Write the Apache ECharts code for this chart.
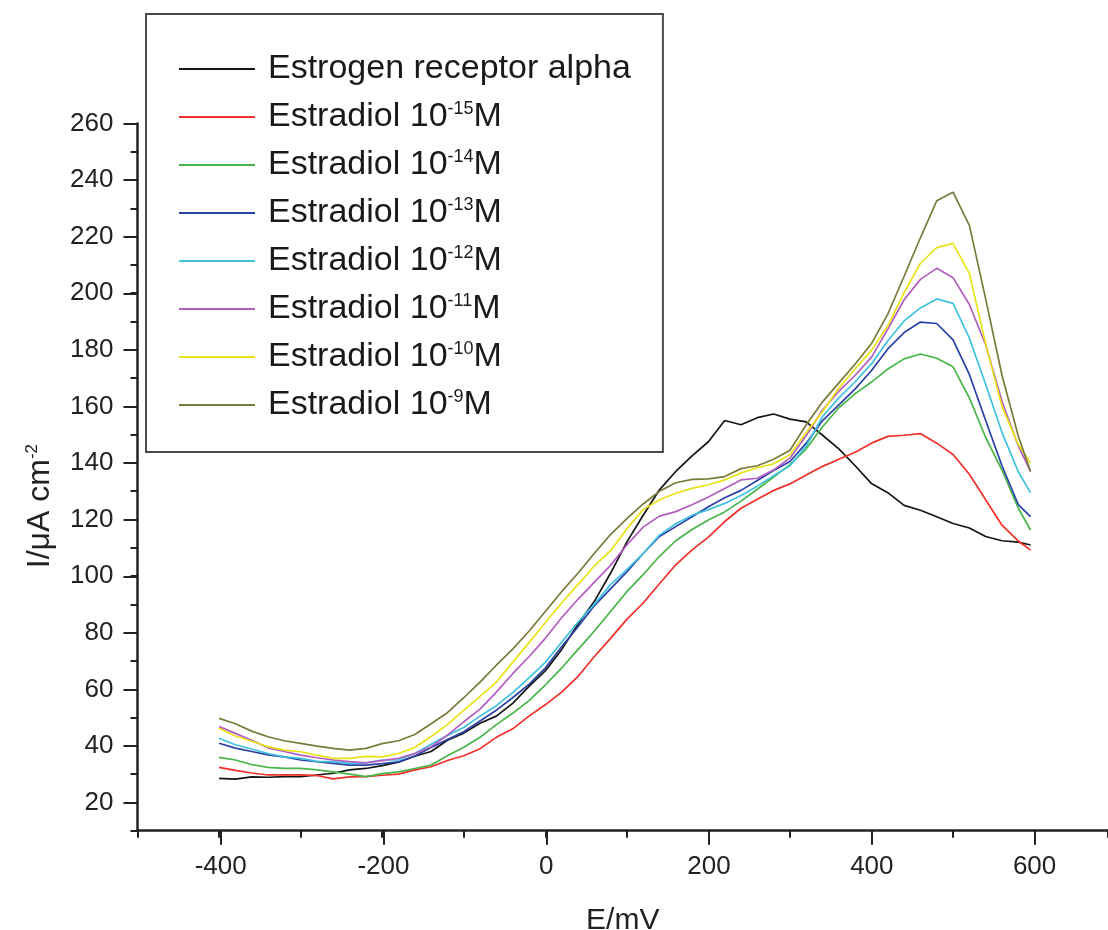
<!DOCTYPE html>
<html>
<head>
<meta charset="utf-8">
<script src="https://cdn.jsdelivr.net/npm/echarts@6/dist/echarts.min.js"></script>
<style>
html,body{margin:0;padding:0;background:#fff;}
#chart{width:1108px;height:930px;}
</style>
</head>
<body>
<div id="chart"></div>
<script>
// ---------- data ----------
const potentialMV = [-400,-380,-360,-340,-320,-300,-280,-260,-240,-220,-200,-180,-160,-140,-120,-100,-80,-60,-40,-20,
  0,20,40,60,80,100,120,140,160,180,200,220,240,260,280,300,320,340,360,380,400,420,440,460,480,500,520,540,560,580,595];

const receptorAlpha = [28.5,28.2,29.0,28.9,29.1,29.1,29.7,30.3,31.5,32.0,33.0,34.2,36.3,38.0,42.0,44.5,48.0,50.5,55.0,61.0,
  66.5,74.0,83.0,91.0,101.0,112.0,121.5,130.5,137.0,142.5,147.5,155.0,153.5,156.0,157.3,155.5,154.5,149.8,145.0,139.0,
  132.7,129.5,125.0,123.3,121.0,118.6,117.0,114.0,112.5,112.0,111.0];

const estradiol15 = [32.4,31.3,30.4,29.7,29.7,29.7,29.5,28.3,29.0,29.1,29.6,30.0,31.5,32.6,34.8,36.5,39.0,43.0,46.0,50.5,
  54.5,59.0,64.5,71.5,78.0,84.7,90.5,97.3,104.0,109.3,113.8,119.3,124.0,127.2,130.3,132.6,135.7,138.8,141.3,143.8,
  147.0,149.4,149.8,150.4,147.0,143.0,136.0,127.0,118.0,112.4,109.2];

const estradiol14 = [35.9,35.0,33.4,32.4,32.0,32.0,31.5,30.8,30.0,29.1,30.2,30.8,32.0,33.2,36.5,39.5,43.0,47.5,51.5,56.0,
  61.5,67.5,74.0,80.5,87.5,94.5,100.5,107.0,112.5,116.5,119.8,122.7,126.5,130.7,135.0,139.4,145.0,152.8,159.5,164.5,
  168.6,173.2,176.8,178.5,177.0,174.0,163.0,149.0,137.5,124.0,116.3];

const estradiol13 = [40.9,39.2,38.0,36.8,36.1,35.0,34.4,33.8,33.2,33.2,33.7,34.3,36.4,39.4,42.2,45.0,48.8,52.6,57.0,61.7,
  67.5,75.0,82.0,89.5,95.5,101.5,108.0,114.0,117.5,121.0,124.5,127.7,130.3,133.8,137.3,140.5,147.0,155.0,160.5,166.2,
  172.7,180.3,186.1,189.8,189.3,183.5,171.3,155.0,139.0,125.3,121.0];

const estradiol12 = [42.7,40.4,38.9,37.3,36.1,35.6,34.5,34.4,33.8,34.0,35.0,35.0,37.3,40.6,43.7,46.5,50.5,54.2,58.8,64.0,
  69.5,76.6,83.7,90.0,97.0,102.3,108.0,114.5,118.5,121.5,123.5,125.7,128.5,131.8,135.5,139.0,146.0,156.4,163.0,168.7,
  175.0,183.2,190.2,194.8,198.0,196.4,184.1,167.8,150.8,136.9,129.5];

const estradiol11 = [46.8,44.4,42.0,39.3,38.0,36.7,35.8,35.0,34.4,34.0,34.8,35.6,37.3,39.7,43.8,48.5,53.0,59.0,65.5,71.5,
  78.0,85.3,91.8,97.8,103.8,111.0,117.3,121.2,122.8,125.2,128.0,131.0,134.0,134.6,137.5,141.7,149.7,158.7,165.4,171.0,
  177.4,187.3,197.7,204.9,208.8,205.5,196.0,181.8,161.8,146.0,137.0];

const estradiol10 = [46.2,43.5,41.6,39.7,38.5,37.9,36.7,35.6,35.6,36.3,36.1,37.3,39.4,43.3,47.5,52.5,57.5,62.5,69.5,76.5,
  83.5,90.5,97.0,103.5,109.0,116.7,123.5,127.0,129.3,131.0,132.3,134.0,136.5,138.3,139.7,142.9,150.8,158.2,166.5,173.3,
  179.8,188.5,200.2,210.6,216.1,217.6,207.0,182.0,160.0,146.5,140.0];

const estradiol9 = [49.7,47.8,45.2,43.2,41.8,40.9,39.9,39.1,38.5,39.1,40.8,41.8,44.0,47.8,51.7,57.0,62.5,68.5,74.2,80.5,
  87.5,94.5,101.0,108.0,114.7,120.3,125.5,130.0,133.0,134.2,134.4,135.2,138.0,139.0,141.3,144.5,153.5,161.6,168.3,175.0,
  182.2,192.6,206.0,219.6,232.7,235.7,224.0,198.0,171.0,149.5,137.0];

const seriesNames = ['Estrogen receptor alpha','Estradiol 10^-15M','Estradiol 10^-14M','Estradiol 10^-13M',
  'Estradiol 10^-12M','Estradiol 10^-11M','Estradiol 10^-10M','Estradiol 10^-9M'];
const seriesValues = [receptorAlpha, estradiol15, estradiol14, estradiol13, estradiol12, estradiol11, estradiol10, estradiol9];
const seriesColors = ['#151515','#f2302a','#47b548','#2b41a6','#3fc1e0','#b45cc2','#e8e316','#7a7a3a'];

const xMajorTicks = {min:-400, max:600, step:200};
const yMajorTicks = {min:20, max:260, step:20};

// ---------- chart ----------
const FONT = '"Liberation Sans", Arial, Helvetica, sans-serif';
const AXIS_COLOR = '#222';

function toPairs(vals){ return potentialMV.map((x,i)=>[x, vals[i]]); }

function legendLabel(name){
  const m = name.match(/^Estradiol 10\^(-?\d+)M$/);
  if (m) return '{a|Estradiol 10}{s|' + m[1] + '}{m|M}';
  return '{a|' + name + '}';
}

const chart = echarts.init(document.getElementById('chart'), null, {renderer:'canvas'});

const option = {
  animation:false,
  backgroundColor:'#ffffff',
  grid:[
    {left:137.5, right:0, top:123.5, bottom:99.3, outerBoundsMode:'none', containLabel:false},
    {left:220.7, right:73.4, top:123.5, bottom:99.3, outerBoundsMode:'none', containLabel:false},
    {left:137.5, right:0, top:123.5, bottom:127.3, outerBoundsMode:'none', containLabel:false}
  ],
  xAxis:[
    {gridIndex:0, type:'value', min:-500, max:690, interval:100,
     axisLine:{show:true, onZero:false, lineStyle:{color:AXIS_COLOR, width:2.5}},
     axisTick:{show:true, length:7, lineStyle:{color:AXIS_COLOR, width:2}},
     axisLabel:{show:false}, splitLine:{show:false},
     name:'E/mV', nameLocation:'middle', nameGap:75,
     nameTextStyle:{fontFamily:FONT, fontSize:30, color:AXIS_COLOR}},
    {gridIndex:1, type:'value', min:xMajorTicks.min, max:xMajorTicks.max, interval:xMajorTicks.step,
     axisLine:{show:false, onZero:false},
     axisTick:{show:true, length:14, lineStyle:{color:AXIS_COLOR, width:2}},
     axisLabel:{show:true, margin:23, fontFamily:FONT, fontSize:26, color:AXIS_COLOR},
     splitLine:{show:false}},
    {gridIndex:2, type:'value', show:false, min:-500, max:690}
  ],
  yAxis:[
    {gridIndex:0, type:'value', min:10, max:260, interval:10,
     axisLine:{show:true, onZero:false, lineStyle:{color:AXIS_COLOR, width:2.5}},
     axisTick:{show:true, length:7, lineStyle:{color:AXIS_COLOR, width:2}},
     axisLabel:{show:false}, splitLine:{show:false},
     name:'{a|I/μA cm}{s|-2}', nameLocation:'middle', nameGap:80, nameRotate:90,
     nameTextStyle:{fontFamily:FONT, color:AXIS_COLOR, padding:[0,58,0,0],
       rich:{a:{fontFamily:FONT, fontSize:32, color:AXIS_COLOR, lineHeight:34},
             s:{fontFamily:FONT, fontSize:17, color:AXIS_COLOR, verticalAlign:'top', lineHeight:34}}}},
    {gridIndex:1, type:'value', show:false, min:10, max:260},
    {gridIndex:2, type:'value', min:yMajorTicks.min, max:yMajorTicks.max, interval:yMajorTicks.step,
     axisLine:{show:false, onZero:false},
     axisTick:{show:true, length:14, lineStyle:{color:AXIS_COLOR, width:2}},
     axisLabel:{show:true, margin:24, fontFamily:FONT, fontSize:26, color:AXIS_COLOR},
     splitLine:{show:false}}
  ],
  legend:{
    orient:'vertical', left:146, top:14,
    padding:[38,32,30,33],
    borderColor:'#4a4a4a', borderWidth:2,
    backgroundColor:'#ffffff',
    itemWidth:76, itemHeight:2, itemGap:14,
    icon:'rect', selectedMode:false,
    data:seriesNames,
    formatter:legendLabel,
    textStyle:{fontFamily:FONT, fontSize:34, color:'#1a1a1a',
      rich:{
        a:{fontFamily:FONT, fontSize:34, color:'#1a1a1a', lineHeight:34, padding:[0,0,0,8]},
        m:{fontFamily:FONT, fontSize:34, color:'#1a1a1a', lineHeight:34},
        s:{fontFamily:FONT, fontSize:18, color:'#1a1a1a', lineHeight:34, verticalAlign:'top'}
      }}
  },
  series: seriesNames.map((n,i)=>({
    type:'line', name:n, xAxisIndex:0, yAxisIndex:0,
    data:toPairs(seriesValues[i]),
    showSymbol:false, symbol:'none', silent:true,
    lineStyle:{color:seriesColors[i], width:1.7},
    itemStyle:{color:seriesColors[i]},
    z:2+i
  }))
};

chart.setOption(option);
</script>
</body>
</html>
